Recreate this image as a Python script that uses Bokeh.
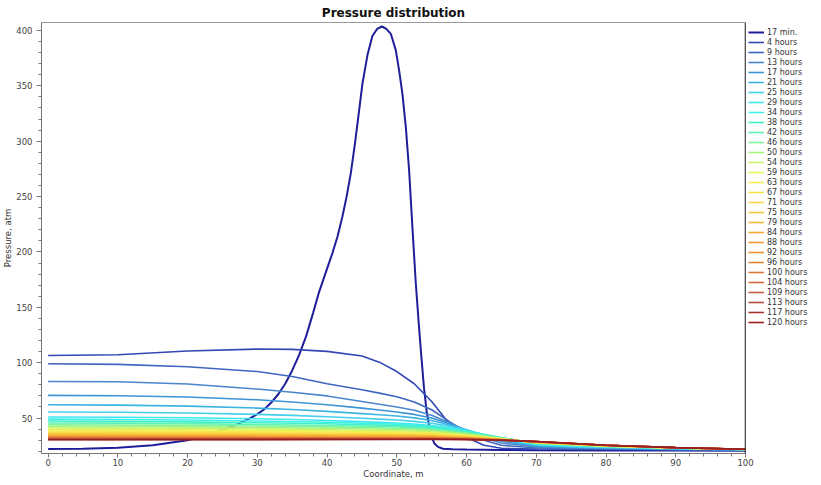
from bokeh.plotting import figure
from bokeh.models import Range1d, Legend, LegendItem, FixedTicker, Span
from bokeh.embed import file_html
from bokeh.resources import INLINE

# ---------------- data ----------------
series_labels = ["17 min.", "4 hours", "9 hours", "13 hours", "17 hours", "21 hours", "25 hours",
                 "29 hours", "34 hours", "38 hours", "42 hours", "46 hours", "50 hours", "54 hours",
                 "59 hours", "63 hours", "67 hours", "71 hours", "75 hours", "79 hours", "84 hours",
                 "88 hours", "92 hours", "96 hours", "100 hours", "104 hours", "109 hours",
                 "113 hours", "117 hours", "120 hours"]

coord_17min = [0, 5, 10, 15, 20, 22, 24.5, 27, 29, 30, 31, 32, 33, 34, 35, 36, 37, 38, 38.86, 40,
               40.77, 41.5, 42.2, 42.8, 43.4, 44.0, 44.6, 45.07, 45.8, 46.5, 47.2, 47.85, 48.5,
               49.14, 49.86, 50.33, 50.8, 51.29, 51.76, 52.24, 52.72, 53.15, 53.5, 53.9, 54.3,
               54.7, 55.0, 55.4, 55.9, 56.6, 58, 60, 65, 70, 80, 90, 100]
pres_17min = [22, 22.3, 23.3, 25.5, 30, 33.5, 38.6, 44, 50, 53.5, 58, 64, 71.5, 81, 93, 107, 124, 145,
              164, 185, 199, 214, 232, 250, 271, 298, 328, 352, 378, 395, 401.5, 403.6, 401.5,
              397.0, 382, 364, 343, 313, 274, 222, 172, 135, 107, 77, 55,
              41, 33, 27, 24, 22.3, 21.8, 21.5, 21.2, 21.0, 20.8, 20.6, 20.5]

coord_early = [0, 10, 20, 30, 35, 40, 45, 47.5, 50, 52.5, 55, 57.5, 60, 62.5, 65, 70, 75, 80, 90, 100]
pres_4h = [106.5, 107.2, 110.5, 112.3, 112.0, 110.2, 106, 100.5, 92, 81, 65, 45, 32.5, 25.5, 22.7, 22.0, 21.8, 21.6, 21.3, 21.0]
pres_9h = [99, 98.5, 96.4, 92, 87.5, 81, 75.5, 72.5, 69.2, 64.5, 57.5, 47, 37, 30, 25.5, 23.0, 22.4, 22.0, 21.6, 21.2]
pres_13h = [83, 82.8, 80.7, 76.2, 73.3, 70, 65, 62.5, 60, 57, 52.5, 46, 38.5, 32, 27.5, 23.8, 23.0, 22.5, 21.8, 21.3]
pres_17h = [70.5, 70.2, 69, 66.5, 64.5, 62, 59, 57.3, 55.5, 53.3, 50, 45, 39, 33.5, 29, 24.6, 23.6, 22.9, 22.0, 21.4]
pres_21h = [62, 61.7, 60.8, 59, 57.7, 56, 54, 53, 51.8, 50.2, 47.8, 44, 39.5, 34.5, 30, 25.2, 24.0, 23.3, 22.2, 21.5]
pres_25h = [55.5, 55.3, 54.6, 53.3, 52.4, 51.2, 49.8, 49, 48.2, 47, 45.3, 42.7, 39.3, 35, 31, 25.7, 24.3, 23.6, 22.4, 21.6]
pres_29h = [51, 50.8, 50.3, 49.4, 48.7, 47.8, 46.8, 46.2, 45.5, 44.6, 43.3, 41.3, 38.6, 35, 31.5, 26.3, 24.6, 23.9, 22.5, 21.6]

coord_late = [0, 10, 20, 30, 40, 50, 55, 60, 65, 70, 80, 90, 100]
pres_34h = [49.0, 48.7, 48.2, 47.3, 46.2, 44.5, 42.7, 38.3, 32.5, 26.8, 24.2, 22.7, 21.7]
pres_38h = [47.3, 47.0, 46.6, 45.8, 44.8, 43.2, 41.6, 37.6, 32.3, 27.0, 24.3, 22.8, 21.7]
pres_42h = [45.6, 45.4, 45.0, 44.2, 43.3, 42.0, 40.5, 36.9, 32.0, 27.2, 24.4, 22.8, 21.7]
pres_46h = [44.0, 43.8, 43.4, 42.8, 42.0, 40.8, 39.5, 36.2, 31.8, 27.3, 24.5, 22.9, 21.7]
pres_50h = [42.5, 42.3, 42.0, 41.4, 40.8, 39.7, 38.5, 35.6, 31.6, 27.5, 24.7, 22.9, 21.7]
pres_54h = [41.0, 40.8, 40.6, 40.1, 39.5, 38.6, 37.6, 35.0, 31.4, 27.7, 24.8, 23.0, 21.7]
pres_59h = [39.7, 39.6, 39.4, 38.9, 38.4, 37.6, 36.8, 34.5, 31.3, 27.8, 24.9, 23.0, 21.8]
pres_63h = [38.5, 38.4, 38.2, 37.8, 37.4, 36.7, 36.0, 33.9, 31.1, 27.9, 24.9, 23.0, 21.8]
pres_67h = [37.4, 37.3, 37.2, 36.8, 36.5, 35.9, 35.3, 33.5, 30.9, 28.0, 25.0, 23.1, 21.8]
pres_71h = [36.4, 36.3, 36.2, 35.9, 35.6, 35.2, 34.6, 33.1, 30.8, 28.2, 25.1, 23.1, 21.8]
pres_75h = [35.5, 35.4, 35.4, 35.1, 34.9, 34.5, 34.1, 32.7, 30.7, 28.3, 25.2, 23.2, 21.8]
pres_79h = [34.7, 34.6, 34.6, 34.4, 34.2, 33.9, 33.5, 32.4, 30.6, 28.3, 25.2, 23.2, 21.8]
pres_84h = [34.0, 34.0, 33.9, 33.8, 33.6, 33.4, 33.1, 32.1, 30.5, 28.4, 25.3, 23.2, 21.8]
pres_88h = [33.4, 33.3, 33.4, 33.2, 33.1, 32.9, 32.7, 31.8, 30.4, 28.5, 25.3, 23.2, 21.8]
pres_92h = [32.8, 32.8, 32.8, 32.7, 32.6, 32.5, 32.3, 31.6, 30.3, 28.5, 25.3, 23.2, 21.8]
pres_96h = [32.3, 32.3, 32.3, 32.2, 32.2, 32.1, 32.0, 31.4, 30.3, 28.6, 25.4, 23.2, 21.8]
pres_100h = [31.9, 31.9, 31.9, 31.9, 31.9, 31.8, 31.8, 31.2, 30.2, 28.6, 25.4, 23.3, 21.8]
pres_104h = [31.5, 31.5, 31.5, 31.5, 31.5, 31.5, 31.5, 31.0, 30.1, 28.7, 25.4, 23.3, 21.8]
pres_109h = [31.2, 31.2, 31.3, 31.2, 31.3, 31.3, 31.3, 30.9, 30.1, 28.7, 25.4, 23.3, 21.8]
pres_113h = [30.9, 30.9, 31.0, 31.0, 31.0, 31.1, 31.1, 30.8, 30.1, 28.7, 25.5, 23.3, 21.8]
pres_117h = [30.6, 30.6, 30.7, 30.7, 30.8, 30.9, 30.9, 30.7, 30.0, 28.8, 25.5, 23.3, 21.8]
pres_120h = [30.4, 30.4, 30.5, 30.5, 30.6, 30.7, 30.8, 30.6, 30.0, 28.8, 25.5, 23.3, 21.8]

x_ticks = [0, 10, 20, 30, 40, 50, 60, 70, 80, 90, 100]
y_ticks = [50, 100, 150, 200, 250, 300, 350, 400]

# ---------------- styles ----------------
colors = ["#1e1e9a", "#3247b3", "#3f66c0", "#4a86cc", "#3b95d4", "#3cb4e2", "#45cfea", "#3fe6f2",
          "#3ef0e6", "#40f0cc", "#5ef2b4", "#82f49a", "#a6f47c", "#c8f468", "#e6f45a", "#f4ee50",
          "#f8e24a", "#fad444", "#fac640", "#f8b83a", "#f6aa36", "#f29c34", "#ee9034", "#e88438",
          "#de763a", "#d26a3e", "#c45c40", "#b44a3a", "#a83432", "#9a1c1c"]

series = [(coord_17min, pres_17min),
          (coord_early, pres_4h), (coord_early, pres_9h), (coord_early, pres_13h),
          (coord_early, pres_17h), (coord_early, pres_21h), (coord_early, pres_25h),
          (coord_early, pres_29h),
          (coord_late, pres_34h), (coord_late, pres_38h), (coord_late, pres_42h),
          (coord_late, pres_46h), (coord_late, pres_50h), (coord_late, pres_54h),
          (coord_late, pres_59h), (coord_late, pres_63h), (coord_late, pres_67h),
          (coord_late, pres_71h), (coord_late, pres_75h), (coord_late, pres_79h),
          (coord_late, pres_84h), (coord_late, pres_88h), (coord_late, pres_92h),
          (coord_late, pres_96h), (coord_late, pres_100h), (coord_late, pres_104h),
          (coord_late, pres_109h), (coord_late, pres_113h), (coord_late, pres_117h),
          (coord_late, pres_120h)]

FONT = "DejaVu Sans"

p = figure(frame_width=704, frame_height=431, output_backend="svg", toolbar_location=None,
           x_range=Range1d(-0.95, 100), y_range=Range1d(18.0, 407.2),
           min_border_left=35, min_border_right=66, min_border_top=22, min_border_bottom=22)

p.title.text = "Pressure distribution"
p.title.text_font = FONT
p.title.text_font_style = "bold"
p.title.text_font_size = "12px"
p.title.text_color = "#111111"
p.title.align = "center"
p.title.standoff = 5
p.title.offset = 0

p.xgrid.visible = False
p.ygrid.visible = False
p.outline_line_color = "#9a9a9a"
p.background_fill_color = "white"
p.border_fill_color = "white"

renderers = []
for i, ((xs, ys), c) in enumerate(zip(series, colors)):
    w = 2.0 if i == 0 else 1.6
    r = p.line(xs, ys, line_color=c, line_width=w)
    renderers.append(r)

p.add_layout(Span(location=100, dimension="height", line_color="#111111", line_width=1.5))

for ax in (p.xaxis, p.yaxis):
    ax.axis_line_color = "#777777"
    ax.major_tick_line_color = "#777777"
    ax.minor_tick_line_color = "#777777"
    ax.major_tick_out = 5
    ax.major_tick_in = 0
    ax.minor_tick_out = 3
    ax.minor_tick_in = 0
    ax.major_label_text_font = FONT
    ax.major_label_text_font_size = "8.5px"
    ax.major_label_text_color = "#444444"
    ax.axis_label_text_font = FONT
    ax.axis_label_text_font_size = "8.5px"
    ax.axis_label_text_font_style = "normal"
    ax.axis_label_text_color = "#333333"

p.xaxis.major_tick_out = 4
p.xaxis.ticker = FixedTicker(ticks=x_ticks, minor_ticks=list(range(0, 101, 2)))
p.yaxis.ticker = FixedTicker(ticks=y_ticks, minor_ticks=list(range(20, 401, 10)))
p.xaxis.axis_label = "Coordinate, m"
p.yaxis.axis_label = "Pressure, atm"
p.xaxis.major_label_standoff = 1
p.yaxis.major_label_standoff = 4
p.xaxis.axis_label_standoff = 0
p.yaxis.axis_label_standoff = 0

items = [LegendItem(label=lab, renderers=[r]) for lab, r in zip(series_labels, renderers)]
legend = Legend(items=items, location="top_left", margin=0, padding=3, spacing=0,
                glyph_height=10, glyph_width=16, label_height=10, label_standoff=3,
                label_text_font=FONT, label_text_font_size="8px", label_text_color="#333333",
                title=" ", title_text_font_size="2px", title_standoff=0,
                border_line_alpha=0, background_fill_alpha=0)
p.add_layout(legend, "right")

open("out.html", "w").write(file_html(p, INLINE))
